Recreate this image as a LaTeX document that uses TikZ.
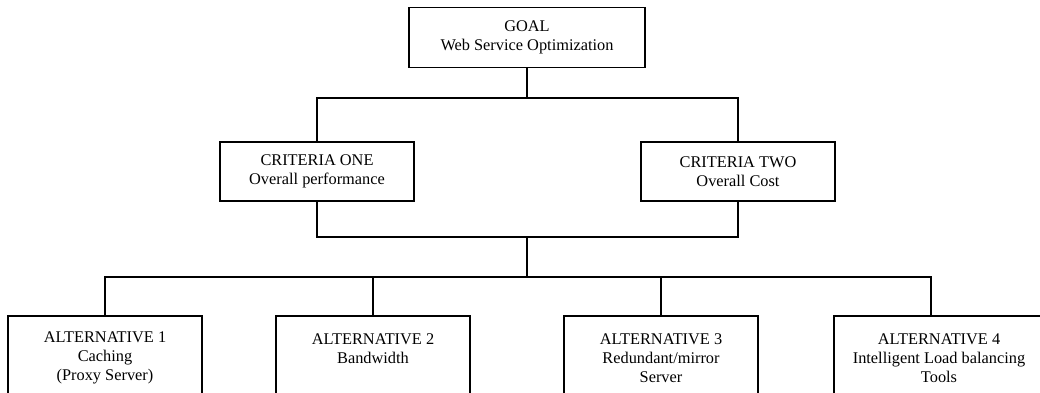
\documentclass[tikz,border=0pt]{standalone}
\usepackage{fontspec}
\setmainfont{Liberation Serif}
\usepackage{tikz}

\begin{document}
\begin{tikzpicture}[x=0.02cm, y=-0.02cm, line width=1pt,
    box/.style={draw, align=center, inner sep=0pt, font=\fontsize{9.3}{10.8}\selectfont},
    upper/.style={box, minimum width=3.88cm, minimum height=1.18cm},
    lower/.style={box, minimum width=3.88cm, minimum height=1.68cm}]
                \clip (0,0) rectangle (1040,392);

                %goal
                \node[box, minimum width=4.72cm, minimum height=1.2cm] (goal) at (527,37.5) {GOAL\\Web Service Optimization};

                %criteria
                \node[upper] (crit1) at (317,171.5) {CRITERIA ONE\\Overall performance};
                \node[upper] (crit2) at (738,171.5) {CRITERIA TWO\\Overall Cost};

                %alternatives
                \node[lower] (alt1) at (105,358) {ALTERNATIVE 1\\Caching\\(Proxy Server)};
                \node[lower] (alt2) at (373,358) {ALTERNATIVE 2\\Bandwidth\\\mbox{}};
                \node[lower] (alt3) at (661,358) {ALTERNATIVE 3\\Redundant/mirror\\Server};
                \node[lower, minimum width=4.2cm] (alt4) at (939,358) {ALTERNATIVE 4\\Intelligent Load balancing\\Tools};

                % connectors
                \coordinate (split1) at (527,98);
                \coordinate (join) at (527,237);
                \coordinate (split2) at (527,277);
                \coordinate (alt4 top) at (931,316);
                \draw (goal.south) -- (split1);
                \draw (crit1.north) |- (split1) -| (crit2.north);
                \draw (crit1.south) |- (join) -| (crit2.south);
                \draw (join) -- (split2);
                \draw (alt1.north) |- (split2) -| (alt4 top);
                \draw (alt2.north) -- (alt2.north |- split2);
                \draw (alt3.north) -- (alt3.north |- split2);

            \end{tikzpicture}
\end{document}
